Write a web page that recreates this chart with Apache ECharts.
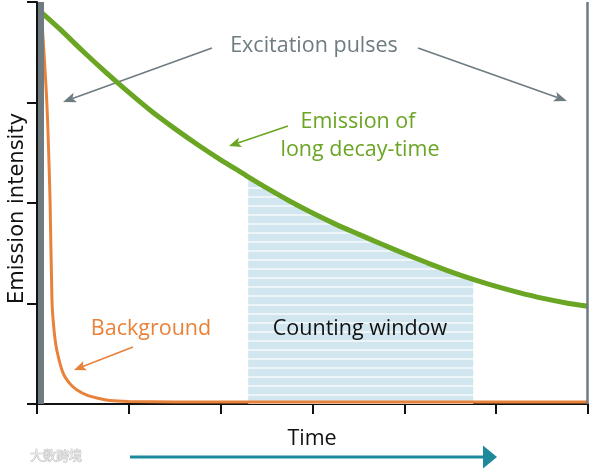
<!DOCTYPE html>
<html>
<head>
<meta charset="utf-8">
<script src="https://cdn.jsdelivr.net/npm/echarts@6/dist/echarts.min.js"></script>
<style>
  html, body { margin: 0; padding: 0; background: #ffffff; }
  #chart { width: 589px; height: 469px; }
</style>
</head>
<body>
<div id="chart"></div>
<script>
// Time axis runs 0..6 (arbitrary units), intensity axis 0..4.
const xTicks = [0, 1, 2, 3, 4, 5, 6];
const yTicks = [0, 1, 2, 3, 4];

// Long decay-time emission
const longDecayTime  = [0.044, 0.25, 0.5, 0.75, 1.0, 1.25, 1.5, 1.75, 2.0, 2.25, 2.3, 2.5, 2.75, 3.0, 3.25, 3.5, 3.75, 4.0, 4.25, 4.5, 4.75, 5.0, 5.25, 5.5, 5.75, 6.0];
const longDecayValue = [3.90, 3.73, 3.51, 3.30, 3.10, 2.91, 2.74, 2.58, 2.43, 2.29, 2.26, 2.15, 2.02, 1.90, 1.79, 1.69, 1.592, 1.496, 1.405, 1.318, 1.24, 1.17, 1.108, 1.053, 1.008, 0.972];

// Short-lived background emission
const backgroundTime  = [0.044, 0.106, 0.142, 0.163, 0.185, 0.215, 0.283, 0.36, 0.436, 0.55, 0.653, 0.795, 1.0, 1.5, 6.0];
const backgroundValue = [3.95, 3.02, 2.03, 1.03, 0.74, 0.54, 0.31, 0.20, 0.14, 0.085, 0.06, 0.035, 0.025, 0.02, 0.02];

// Excitation pulse instants and the gated counting window
const pulseTimes = [0.044, 5.99];
const countingWindow = [2.3, 4.75];

const GREEN = '#6aa523';
const ORANGE = '#e8823a';
const GREY = '#6e7b80';
const TEAL = '#1d8a9b';
const FONT = '"Open Sans", sans-serif';

const pairs = (xs, ys) => xs.map((x, i) => [x, ys[i]]);
const longDecay = pairs(longDecayTime, longDecayValue);
const background = pairs(backgroundTime, backgroundValue);
const windowArea = longDecay.filter(p => p[0] >= countingWindow[0] && p[0] <= countingWindow[1]);

function stripePattern() {
  const c = document.createElement('canvas');
  c.width = 8; c.height = 9;
  const g = c.getContext('2d');
  g.fillStyle = '#d2e6ef'; g.fillRect(0, 0, 8, 9);
  g.fillStyle = '#edf5f8'; g.fillRect(0, 7, 8, 2);
  return c;
}

function arrow(x1, y1, x2, y2, color, width, headLen, headW) {
  const a = Math.atan2(y2 - y1, x2 - x1);
  const cos = Math.cos(a), sin = Math.sin(a);
  const bx = x2 - headLen * cos, by = y2 - headLen * sin;
  const nx = x2 - headLen * 0.78 * cos, ny = y2 - headLen * 0.78 * sin;
  const px = -sin * headW / 2, py = cos * headW / 2;
  return [
    { type: 'line', silent: true, shape: { x1: x1, y1: y1, x2: nx, y2: ny },
      style: { stroke: color, lineWidth: width } },
    { type: 'polygon', silent: true,
      shape: { points: [[x2, y2], [bx + px, by + py], [nx, ny], [bx - px, by - py]] },
      style: { fill: color } }
  ];
}

function label(text, x, y, color, size, extra) {
  return Object.assign({
    type: 'text', silent: true, x: x, y: y,
    style: { text: text, fill: color, font: size + 'px ' + FONT, align: 'center', verticalAlign: 'middle' }
  }, extra || {});
}

const chart = echarts.init(document.getElementById('chart'), null, { renderer: 'canvas' });

const axisStyle = {
  axisLine: { show: true, lineStyle: { color: '#111', width: 2 } },
  axisTick: { show: true, inside: false, length: 10, lineStyle: { color: '#111', width: 2 } },
  axisLabel: { show: false },
  splitLine: { show: false }
};

chart.setOption({
  animation: false,
  backgroundColor: '#ffffff',
  grid: { left: 37, right: 1, top: 2, bottom: 65 },
  xAxis: Object.assign({ type: 'value', min: xTicks[0], max: xTicks[xTicks.length - 1], interval: 1 }, axisStyle),
  yAxis: Object.assign({ type: 'value', min: yTicks[0], max: yTicks[yTicks.length - 1], interval: 1 }, axisStyle),
  series: [
    {
      name: 'Counting window',
      type: 'line',
      data: windowArea,
      smooth: 0.3,
      showSymbol: false,
      lineStyle: { width: 0 },
      areaStyle: { color: { image: stripePattern(), repeat: 'repeat' }, opacity: 1 },
      z: 1,
      silent: true
    },
    {
      name: 'Background',
      type: 'line',
      data: background,
      smooth: 0.25,
      showSymbol: false,
      lineStyle: { color: ORANGE, width: 3 },
      z: 3,
      silent: true
    },
    {
      name: 'Emission of long decay-time',
      type: 'line',
      data: longDecay,
      smooth: 0.3,
      showSymbol: false,
      lineStyle: { color: GREEN, width: 5 },
      z: 4,
      silent: true
    },
    {
      name: 'Excitation pulses',
      type: 'line',
      data: [],
      z: 5,
      silent: true,
      markLine: {
        silent: true,
        symbol: ['none', 'none'],
        label: { show: false },
        data: [
          { xAxis: pulseTimes[0], lineStyle: { color: GREY, width: 6, type: 'solid' } },
          { xAxis: pulseTimes[1], lineStyle: { color: GREY, width: 2.5, type: 'solid' } }
        ]
      }
    }
  ],
  graphic: [
    label('Excitation pulses', 314, 46, GREY, 21.5),
    ...arrow(212, 48, 63, 102, GREY, 1.6, 13, 10),
    ...arrow(418, 48, 567, 101, GREY, 1.6, 13, 10),
    label('Emission of', 358, 122, GREEN, 21.5),
    label('long decay-time', 360, 149.5, GREEN, 21.5),
    ...arrow(288, 126, 229, 146, GREEN, 1.6, 12, 10),
    label('Background', 151, 328.5, ORANGE, 21.5),
    ...arrow(133, 347, 74, 370, ORANGE, 1.6, 12, 10),
    label('Counting window', 360, 329, '#111', 21.5, { z: 10 }),
    label('Time', 312, 438.5, '#111', 21.5),
    { type: 'line', silent: true, shape: { x1: 130, y1: 457, x2: 484, y2: 457 },
      style: { stroke: TEAL, lineWidth: 3 } },
    { type: 'polygon', silent: true, shape: { points: [[483, 445.5], [497, 457], [483, 468.5]] },
      style: { fill: TEAL } },
    {
      type: 'text', silent: true, x: 18, y: 208.5, rotation: Math.PI / 2,
      style: { text: 'Emission intensity', fill: '#111', font: '21px "DejaVu Sans", sans-serif',
               align: 'center', verticalAlign: 'middle' }
    },
    {
      type: 'text', silent: true, x: 30, y: 455.5,
      style: { text: '大数跨境', fill: '#e6e6e6', stroke: '#b4b4b4', lineWidth: 0.7,
               font: '13px "Noto Sans CJK SC", sans-serif', align: 'left', verticalAlign: 'middle' }
    }
  ]
});
</script>
</body>
</html>
